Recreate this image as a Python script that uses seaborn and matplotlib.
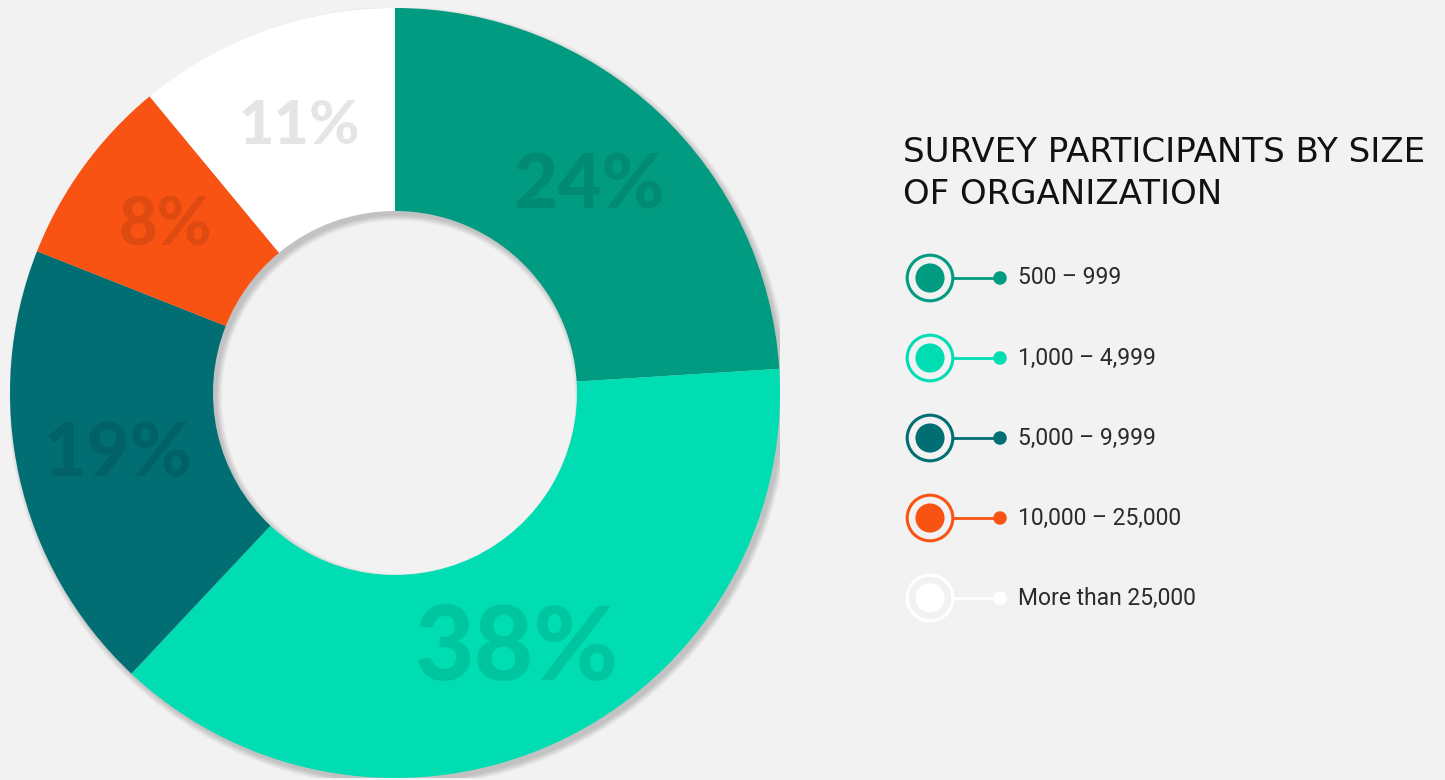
import numpy as np
import matplotlib
matplotlib.use("Agg")
import matplotlib.pyplot as plt
from matplotlib.patches import Wedge
import seaborn as sns

# Survey data: share of participants by organization size
categories = ["500 – 999", "1,000 – 4,999", "5,000 – 9,999", "10,000 – 25,000", "More than 25,000"]
shares = [24, 38, 19, 8, 11]
colors = ["#009B80", "#00DDB3", "#006E73", "#F95314", "#FFFFFF"]
title_lines = ["SURVEY PARTICIPANTS BY SIZE", "OF ORGANIZATION"]

BG = "#F2F2F2"
sns.set_theme(style="white")
plt.rcParams["font.family"] = ["Lato", "DejaVu Sans"]

W, H = 1445, 780
fig = plt.figure(figsize=(W / 100, H / 100), dpi=100, facecolor=BG)

# ---- donut ---------------------------------------------------------------
cx, cy, R = 395, 393, 385          # centre and outer radius in pixels
hole = 182 / R
ring = 1 - hole
ax = fig.add_axes([(cx - R) / W, (H - cy - R) / H, 2 * R / W, 2 * R / H])
ax.set_facecolor("none")
ax.axis("off")

# soft drop shadow beneath the ring
ox, oy = 0.009, -0.011
for s in np.linspace(0, 0.03, 12):
    ax.add_patch(Wedge((ox, oy), 1 + s * 0.5, 0, 360, width=ring + s,
                       facecolor="black", edgecolor="none", alpha=0.016, zorder=0))

wedges, _ = ax.pie(shares, colors=colors, startangle=90, counterclock=False,
                   radius=1, wedgeprops=dict(width=ring, linewidth=0))
for w in wedges:
    w.set_zorder(2)
ax.set_xlim(-1, 1)
ax.set_ylim(-1, 1)
ax.set_aspect("equal")

label_sizes = {38: 74, 24: 55, 19: 54, 11: 44, 8: 48}
mid_r = 1 - ring / 2
for w, v in zip(wedges, shares):
    ang = np.deg2rad((w.theta1 + w.theta2) / 2)
    ax.text(mid_r * np.cos(ang), mid_r * np.sin(ang), f"{v}%",
            ha="center", va="center", fontsize=label_sizes[v],
            fontweight="black", color="black", alpha=0.1, zorder=3)

# ---- title and legend ----------------------------------------------------
ov = fig.add_axes([0, 0, 1, 1])
ov.set_facecolor("none")

for i, line in enumerate(title_lines):
    ov.text(903, 152 + 42 * i, line, fontsize=24.5, family=["DejaVu Sans"],
            color="#111111", va="center", ha="left")

y0, dy = 278, 80
ys = [y0 + i * dy for i in range(len(categories))]
ring_x, dot_x, text_x = 930, 1000, 1018
for y, c, lab in zip(ys, colors, categories):
    ov.plot([ring_x + 23, dot_x], [y, y], color=c, lw=2, solid_capstyle="butt")
    ov.text(text_x, y, lab, fontsize=16.5, family=["Roboto", "DejaVu Sans"],
            color="#2a2a2a", va="center", ha="left")

sns.scatterplot(x=[ring_x] * len(ys), y=ys, hue=categories, palette=colors,
                s=1080, marker="o", linewidth=2.2, legend=False, ax=ov, zorder=4)
ov.collections[-1].set_facecolor("none")
ov.collections[-1].set_edgecolor(colors)
sns.scatterplot(x=[ring_x] * len(ys), y=ys, hue=categories, palette=colors,
                s=440, marker="o", linewidth=0, legend=False, ax=ov, zorder=5)
sns.scatterplot(x=[dot_x] * len(ys), y=ys, hue=categories, palette=colors,
                s=95, marker="o", linewidth=0, legend=False, ax=ov, zorder=5)
ov.set_xlim(0, W)
ov.set_ylim(H, 0)
ov.axis("off")

fig.savefig("out.png", dpi=100, facecolor=BG)
